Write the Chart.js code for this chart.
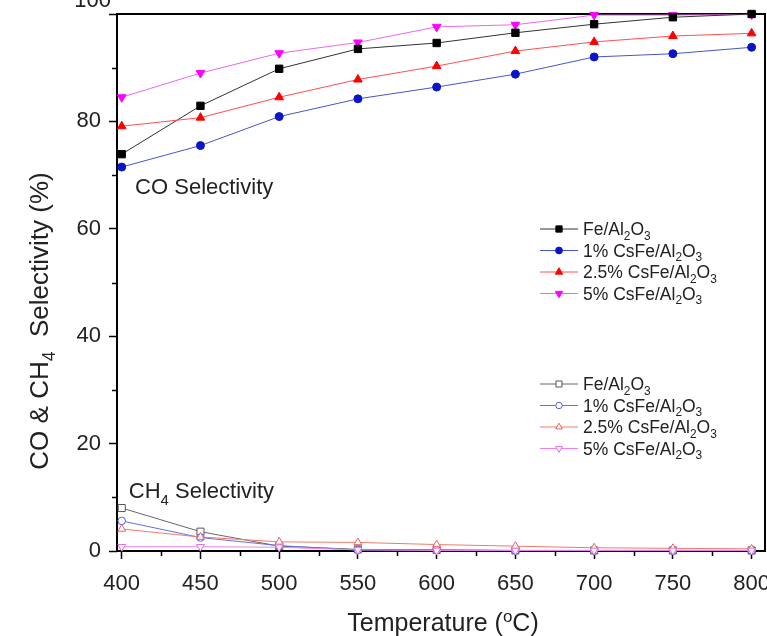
<!DOCTYPE html>
<html>
<head>
<meta charset="utf-8">
<script src="https://cdn.jsdelivr.net/npm/chart.js@4.4.0/dist/chart.umd.min.js"></script>
<style>
  body { margin: 0; background: #fff; }
  canvas { display: block; }
</style>
</head>
<body>
<canvas id="graficoSeletividade" width="767" height="636"></canvas>
<script>
// temperaturas (eixo x) e rótulos dos eixos
const temperaturas = [400, 450, 500, 550, 600, 650, 700, 750, 800];
const ticksX = [400, 450, 500, 550, 600, 650, 700, 750, 800];
const ticksY = [0, 20, 40, 60, 80, 100];
const minorX = [425, 475, 525, 575, 625, 675, 725, 775];
const minorY = [10, 30, 50, 70, 90];

const amostras = ['Fe/Al2O3', '1% CsFe/Al2O3', '2.5% CsFe/Al2O3', '5% CsFe/Al2O3'];

// seletividade de CO (%)
const coFe = [73.9, 82.9, 89.8, 93.5, 94.6, 96.5, 98.1, 99.4, 100];
const coCs1 = [71.5, 75.5, 80.9, 84.2, 86.4, 88.8, 92.0, 92.6, 93.8];
const coCs25 = [79.1, 80.7, 84.5, 87.8, 90.3, 93.1, 94.8, 95.9, 96.4];
const coCs5 = [84.5, 89.0, 92.7, 94.7, 97.6, 98.0, 99.8, 99.8, 99.9];

// seletividade de CH4 (%)
const ch4Fe = [8.0, 3.6, 0.9, 0.3, 0.2, 0.1, 0.1, 0.1, 0.1];
const ch4Cs1 = [5.6, 2.5, 1.0, 0.2, 0.2, 0.1, 0.1, 0.1, 0.1];
const ch4Cs25 = [4.1, 2.6, 1.7, 1.6, 1.2, 0.9, 0.6, 0.5, 0.4];
const ch4Cs5 = [0.8, 0.8, 0.7, 0.2, 0.1, 0.1, 0.1, 0.1, 0.1];

const fonte = "'Liberation Sans', Arial, sans-serif";
const corTexto = '#222';

function pontos(valores) {
    return temperaturas.map((t, i) => ({ x: t, y: valores[i] }));
}

// separa subscritos (dígito logo após letra) para desenhar Al2O3, CH4...
function partesTexto(str) {
    let partes = [];
    for (let i = 0; i < str.length; i++) {
        let c = str[i];
        let sub = /\d/.test(c) && i > 0 && /[A-Za-z]/.test(str[i - 1]);
        partes.push({ t: c, sub: sub });
    }
    return partes;
}

function larguraTexto(ctx, partes, tamanho) {
    let w = 0;
    partes.forEach(p => {
        let tam = (p.sub || p.sup) ? tamanho * 0.68 : tamanho;
        ctx.font = `${tam}px ${fonte}`;
        w += ctx.measureText(p.t).width;
    });
    return w;
}

function desenharTexto(ctx, partes, x, y, tamanho, alinhar) {
    let w = larguraTexto(ctx, partes, tamanho);
    let cx = alinhar === 'center' ? x - w / 2 : x;
    ctx.textBaseline = 'alphabetic';
    ctx.textAlign = 'left';
    ctx.fillStyle = corTexto;
    partes.forEach(p => {
        let tam = (p.sub || p.sup) ? tamanho * 0.68 : tamanho;
        let dy = p.sub ? tamanho * 0.28 : (p.sup ? -tamanho * 0.38 : 0);
        ctx.font = `${tam}px ${fonte}`;
        ctx.fillText(p.t, cx, y + dy);
        cx += ctx.measureText(p.t).width;
    });
}

function serie(rotulo, valores, corLinha, corPonto, estilo, rotacao, raio, aberto) {
    return {
        label: rotulo,
        data: pontos(valores),
        borderColor: corLinha,
        borderWidth: 1,
        pointStyle: estilo,
        rotation: rotacao,
        pointRadius: raio,
        pointBorderWidth: 1,
        pointBorderColor: corPonto,
        pointBackgroundColor: aberto ? '#fff' : corPonto,
        clip: false,
        tension: 0,
        grupo: aberto ? 1 : 0
    };
}

const datasets = [
    serie(amostras[3], ch4Cs5, '#f080f0', '#e070e0', 'triangle', 180, 4.5, true),
    serie(amostras[2], ch4Cs25, '#f07a6a', '#e86060', 'triangle', 0, 4.5, true),
    serie(amostras[1], ch4Cs1, '#6670dd', '#5560d8', 'circle', 0, 3.8, true),
    serie(amostras[0], ch4Fe, '#666', '#555', 'rect', 0, 5, true),
    serie(amostras[1], coCs1, '#4455cc', '#0a14c8', 'circle', 0, 4, false),
    serie(amostras[2], coCs25, '#ff5050', '#ff0000', 'triangle', 0, 5, false),
    serie(amostras[0], coFe, '#333', '#000', 'rect', 0, 5.2, false),
    serie(amostras[3], coCs5, '#ee66ee', '#ff00ff', 'triangle', 180, 5, false)
];

// moldura, ticks menores, títulos, anotações e legenda
const pluginExtras = {
    id: 'extras',
    beforeDatasetsDraw(chart) {
        const ctx = chart.ctx;
        const a = chart.chartArea;
        const sx = chart.scales.x;
        const sy = chart.scales.y;
        ctx.save();
        ctx.strokeStyle = '#000';
        ctx.lineWidth = 2;
        ctx.strokeRect(a.left, a.top, a.right - a.left, a.bottom - a.top);
        ctx.lineWidth = 1.5;
        ctx.beginPath();
        minorX.forEach(v => {
            let px = Math.round(sx.getPixelForValue(v)) + 0.5;
            ctx.moveTo(px, a.bottom);
            ctx.lineTo(px, a.bottom + 5);
        });
        minorY.forEach(v => {
            let py = Math.round(sy.getPixelForValue(v)) + 0.5;
            ctx.moveTo(a.left, py);
            ctx.lineTo(a.left - 5, py);
        });
        ctx.stroke();
        ctx.restore();
    },
    afterDraw(chart) {
        const ctx = chart.ctx;
        const a = chart.chartArea;
        const sx = chart.scales.x;
        const sy = chart.scales.y;
        ctx.save();

        // rótulo 100 cortado no topo
        ctx.font = `22px ${fonte}`;
        ctx.fillStyle = corTexto;
        ctx.textAlign = 'right';
        ctx.textBaseline = 'alphabetic';
        ctx.fillText('100', a.left - 6, sy.getPixelForValue(100) - 7);

        // títulos dos eixos
        desenharTexto(ctx, [{ t: 'Temperature (' }, { t: 'o', sup: true }, { t: 'C)' }],
            443, 631, 25, 'center');
        ctx.save();
        ctx.translate(48, 321);
        ctx.rotate(-Math.PI / 2);
        desenharTexto(ctx, partesTexto('CO & CH4  Selectivity (%)'), 0, 0, 26, 'center');
        ctx.restore();

        // anotações
        desenharTexto(ctx, partesTexto('CO Selectivity'), sx.getPixelForValue(408.5), sy.getPixelForValue(66.4), 22, 'left');
        desenharTexto(ctx, partesTexto('CH4 Selectivity'), sx.getPixelForValue(404.5), sy.getPixelForValue(9.8), 22, 'left');

        // legenda em dois grupos
        const inicioGrupo = [229, 384];
        const passo = 21.5;
        [0, 1].forEach(g => {
            amostras.forEach((nome, k) => {
                const ds = chart.data.datasets.find(d => d.grupo === g && d.label === nome);
                const y = inicioGrupo[g] + k * passo;
                ctx.strokeStyle = ds.borderColor;
                ctx.lineWidth = 1;
                ctx.beginPath();
                ctx.moveTo(540, y);
                ctx.lineTo(578, y);
                ctx.stroke();
                ctx.fillStyle = ds.pointBackgroundColor;
                ctx.strokeStyle = ds.pointBorderColor;
                Chart.helpers.drawPoint(ctx, {
                    pointStyle: ds.pointStyle,
                    rotation: ds.rotation,
                    radius: ds.pointRadius * 0.85,
                    borderWidth: 1
                }, 559, y);
                desenharTexto(ctx, partesTexto(nome), 583, y + 6, 17.5, 'left');
            });
        });
        ctx.restore();
    }
};

new Chart(document.getElementById('graficoSeletividade'), {
    type: 'line',
    data: { datasets: datasets },
    options: {
        responsive: false,
        animation: false,
        devicePixelRatio: 1,
        layout: { autoPadding: false, padding: { top: 14, right: 2, left: 0, bottom: 0 } },
        plugins: {
            legend: { display: false },
            tooltip: { enabled: false }
        },
        scales: {
            x: {
                type: 'linear',
                min: 397,
                max: 808.5,
                afterBuildTicks: s => { s.ticks = ticksX.map(v => ({ value: v })); },
                afterFit: s => { s.height = 85; s.paddingLeft = 0; s.paddingRight = 0; },
                border: { display: false },
                grid: { drawOnChartArea: false, tickLength: 8, tickColor: '#000', tickWidth: 1.5 },
                ticks: { font: { size: 22, family: fonte }, color: corTexto, padding: 12, maxRotation: 0 }
            },
            y: {
                type: 'linear',
                min: 0,
                max: 100,
                afterBuildTicks: s => { s.ticks = ticksY.map(v => ({ value: v })); },
                afterFit: s => { s.width = 117; s.paddingTop = 0; s.paddingBottom = 0; },
                border: { display: false },
                grid: { drawOnChartArea: false, tickLength: 8, tickColor: '#000', tickWidth: 1.5 },
                ticks: {
                    font: { size: 22, family: fonte },
                    color: corTexto,
                    padding: 8,
                    callback: v => (v === 100 ? '' : v)
                }
            }
        }
    },
    plugins: [pluginExtras]
});
</script>
</body>
</html>
